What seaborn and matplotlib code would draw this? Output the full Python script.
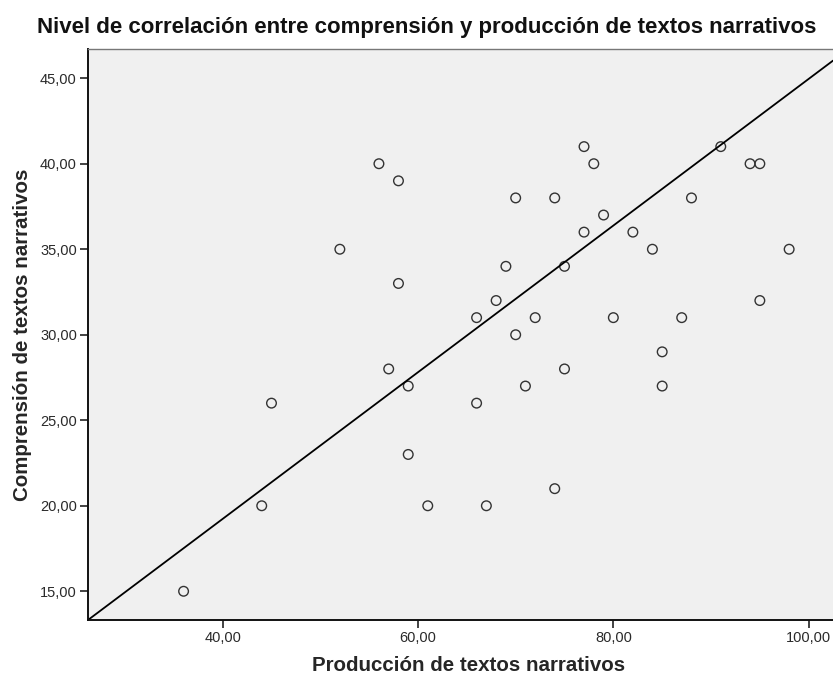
import pandas as pd
import seaborn as sns
import matplotlib
matplotlib.use('Agg')
import matplotlib.pyplot as plt
from matplotlib.ticker import FuncFormatter

# Producción (x) / Comprensión (y)
produccion = [56, 58, 52, 58, 77, 78, 91, 94, 95, 70, 74, 88, 79, 77, 82, 84, 98, 69, 75, 68,
              95, 66, 72, 80, 87, 70, 85, 57, 59, 45, 59, 44, 61, 36, 75, 71, 85, 66, 74, 67]
comprension = [40, 39, 35, 33, 41, 40, 41, 40, 40, 38, 38, 38, 37, 36, 36, 35, 35, 34, 34, 32,
               32, 31, 31, 31, 31, 30, 29, 28, 27, 26, 23, 20, 20, 15, 28, 27, 27, 26, 21, 20]

x_ticks = [40, 60, 80, 100]
y_ticks = [15, 20, 25, 30, 35, 40, 45]

# fit line as drawn in the chart
fit_intercept = 2.08
fit_slope = 0.4288

title = 'Nivel de correlación entre comprensión y producción de textos narrativos'
x_label = 'Producción de textos narrativos'
y_label = 'Comprensión de textos narrativos'

df = pd.DataFrame({'produccion': produccion, 'comprension': comprension})

sns.set_style('white')
plt.rcParams['font.family'] = ['Liberation Sans', 'DejaVu Sans']

fig = plt.figure(figsize=(8.33, 6.82), dpi=100, facecolor='white')
ax = fig.add_axes([0.1056, 0.0909, 0.8944, 0.8368])
ax.set_facecolor('#f0f0f0')

sns.scatterplot(data=df, x='produccion', y='comprension', ax=ax,
                marker='o', s=48, facecolor='none', edgecolor='#333333', linewidth=1.0)
ax.axline((0, fit_intercept), slope=fit_slope, color='black', linewidth=1.3)

ax.set_xlim(26.21, 102.49)
ax.set_ylim(13.32, 46.69)
ax.set_xticks(x_ticks)
ax.set_yticks(y_ticks)
fmt = FuncFormatter(lambda v, p: '{:.2f}'.format(v).replace('.', ','))
ax.xaxis.set_major_formatter(fmt)
ax.yaxis.set_major_formatter(fmt)
ax.tick_params(axis='both', direction='out', length=6, width=1.2, color='#222222',
               labelsize=10.5, labelcolor='#2a2a2a', pad=2, left=True, bottom=True)

for side in ['left', 'bottom']:
    ax.spines[side].set_color('#111111')
    ax.spines[side].set_linewidth(1.4)
ax.spines['top'].set_color('#777777')
ax.spines['top'].set_linewidth(1.0)
ax.spines['right'].set_visible(False)

ax.set_xlabel(x_label, fontsize=14.8, fontweight='bold', labelpad=8)
ax.xaxis.set_label_coords(0.511, -0.063)
ax.set_ylabel(y_label, fontsize=14.8, fontweight='bold', labelpad=6)
fig.text(0.512, 1 - 27 / 682, title, ha='center', va='center', fontsize=16,
         fontweight='bold', color='#111111')

plt.savefig('out.png', dpi=100)
